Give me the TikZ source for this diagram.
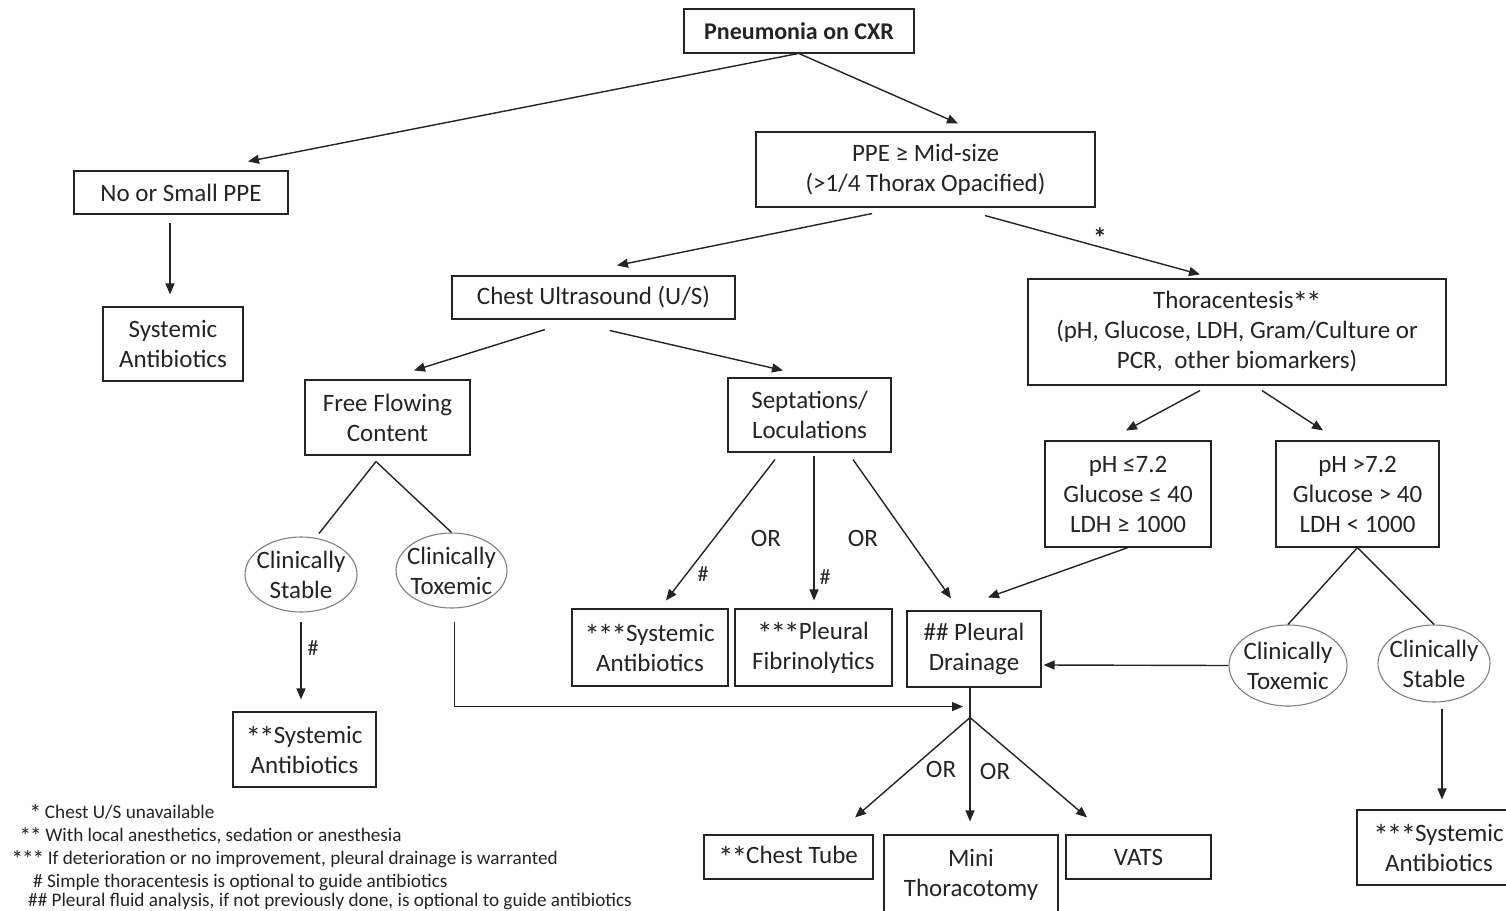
\documentclass[tikz,border=0pt]{standalone}
\usepackage{fontspec}
\usepackage{graphicx}
\setmainfont{Carlito}
\usetikzlibrary{shapes.geometric,arrows.meta,calc}
\definecolor{ink}{HTML}{242424}
\definecolor{ell}{HTML}{808080}
\newcommand\bst{\kern-0.04em\raisebox{-0.2em}{\scalebox{1.25}{*}}\kern-0.04em}
\begin{document}
\begin{tikzpicture}[x=1pt,y=-1pt,
  box/.style={draw=ink, line width=1.1pt, inner sep=0pt, align=center, text=ink, font=\fontsize{25}{30}\selectfont},
  oval/.style={ellipse, draw=ell, line width=1.1pt, inner sep=0pt},
  arr/.style={draw=ink, line width=1.4pt, -{Triangle[length=11pt,width=9pt]}},
  ln/.style={draw=ink, line width=1.4pt},
  lbl/.style={text=ink, font=\fontsize{25}{30}\selectfont, inner sep=0pt, align=center},
  hsh/.style={text=ink, font=\fontsize{22}{26}\selectfont, inner sep=0pt},
  fn/.style={text=ink, font=\fontsize{19.2}{23}\selectfont, inner sep=0pt, anchor=base west}]
\useasboundingbox (0,0) rectangle (1506,910);
\clip (0,0) rectangle (1506,910);
\fill[white] (0,0) rectangle (1506,910);

% boxes
\node[box, minimum width=230, minimum height=44, font=\fontsize{24}{30}\selectfont\bfseries] (title) at (799,31) {Pneumonia on CXR};
\node[box, minimum width=214, minimum height=43] (nosmall) at (181,192.5) {No or Small PPE};
\node[box, minimum width=339, minimum height=75] (ppe) at (925.5,169.5) {PPE ≥ Mid-size\\(>1/4 Thorax Opacified)};
\node[box, minimum width=140, minimum height=74] (sys1) at (173,344) {Systemic\\Antibiotics};
\node[box, minimum width=283, minimum height=43] (cus) at (593.5,297.5) {Chest Ultrasound (U/S)};
\node[box, minimum width=418, minimum height=106] (thora) at (1237,332) {Thoracentesis\bst\bst\\(pH, Glucose, LDH, Gram/Culture or\\PCR,\ \ other biomarkers)};
\node[box, minimum width=165, minimum height=75] (free) at (387.5,417.5) {Free Flowing\\Content};
\node[box, minimum width=163, minimum height=74] (sept) at (809.5,415) {Septations/\\Loculations};
\node[box, minimum width=166, minimum height=106] (phlow) at (1128,494) {pH ≤7.2\\Glucose ≤ 40\\LDH ≥ 1000};
\node[box, minimum width=163, minimum height=106] (phhigh) at (1357.5,494) {pH >7.2\\Glucose > 40\\LDH < 1000};
\node[box, minimum width=143, minimum height=75] (sys2) at (304.5,749.5) {\bst\bst Systemic\\Antibiotics};
\node[box, minimum width=156, minimum height=77] (sys3) at (650,647.5) {\bst\bst\bst Systemic\\Antibiotics};
\node[box, minimum width=157, minimum height=77] (fib) at (813.5,647.5) {\bst\bst\bst Pleural\\Fibrinolytics};
\node[box, minimum width=134, minimum height=76] (drain) at (974,649) {\#\# Pleural\\Drainage};
\node[box, minimum width=170, minimum height=75] (sys4) at (1442,847.5) {};
\node[lbl] (sys4t) at (1439,847.5) {\bst\bst\bst Systemic\\Antibiotics};
\node[box, minimum width=169, minimum height=44] (tube) at (788.5,857) {\bst\bst Chest Tube};
\node[box, minimum width=174, minimum height=80] (mini) at (971,875) {Mini\\Thoracotomy};
\node[box, minimum width=145, minimum height=44] (vats) at (1138.5,857) {VATS};

% ellipses
\node[oval, minimum width=112, minimum height=75] (stL) at (301,574.5) {};
\node[lbl] (stLt) at (stL) {Clinically\\Stable};
\node[oval, minimum width=111, minimum height=75] (txL) at (451.5,570.5) {};
\node[lbl] (txLt) at (txL) {Clinically\\Toxemic};
\node[oval, minimum width=118, minimum height=81] (txR) at (1288,665.5) {};
\node[lbl] (txRt) at (txR) {Clinically\\Toxemic};
\node[oval, minimum width=112, minimum height=77] (stR) at (1434,663.5) {};
\node[lbl] (stRt) at (stR) {Clinically\\Stable};

% connectors
\draw[arr] ($(title.south)+(-1,0)$) -- ($(nosmall.north)+(67,-9)$);
\draw[arr] (title.south) -- ($(ppe.north)+(32.5,-8)$);
\draw[arr] ($(nosmall.south)+(-11,8)$) -- ($(sys1.north)+(-3,-12)$);
\draw[arr] ($(ppe.south)+(-53.5,6)$) -- ($(cus.north)+(23.5,-10)$);
\draw[arr] ($(ppe.south)+(59.5,8)$) -- ($(thora.north)+(-37,-4)$);
\node[hsh, font=\fontsize{22}{26}\selectfont\bfseries] (star) at (1100,238) {\bst};
\draw[arr] ($(cus.south)+(-48.5,10)$) -- ($(free.north)+(26.5,-9)$);
\draw[arr] ($(cus.south)+(16.5,11)$) -- ($(sept.north)+(-26.5,-7)$);
\draw[ln] ($(free.south)+(-11.5,6)$) -- ($(stL.north)+(18,-3)$);
\draw[ln] ($(free.south)+(-11.5,6)$) -- (txL.north);
\draw[arr] ($(stL.south)+(0,9)$) -- ($(sys2.north)+(-3.5,-12)$);
\node[hsh] (h1) at (313,648) {\#};
\draw[arr] ($(txL.south)+(3,13)$) |- ($(drain.south)+(-11,19)$);
\draw[arr] ($(sept.south)+(-34.5,7)$) -- ($(sys3.north)+(16,-8)$);
\node[hsh] (h2) at (703,574) {\#};
\draw[arr] ($(sept.south)+(4.5,3)$) -- ($(fib.north)+(0.5,-8)$);
\node[hsh] (h3) at (825,577) {\#};
\draw[arr] ($(sept.south)+(43.5,7)$) -- ($(drain.north)+(-23,-12)$);
\node[lbl] (or1) at (766,538) {OR};
\node[lbl] (or2) at (863,538) {OR};
\draw[arr] ($(thora.south)+(-37,5)$) -- ($(phlow.north)+(-2,-10)$);
\draw[arr] ($(thora.south)+(25,5)$) -- ($(phhigh.north)+(-34.5,-10)$);
\draw[arr] (phlow.south) -- ($(drain.north)+(14,-13)$);
\draw[ln] (phhigh.south) -- (txR.north);
\draw[ln] (phhigh.south) -- (stR.north);
\draw[arr] (txR.west) -- ($(drain.east)+(2,16)$);
\draw[arr] ($(stR.south)+(8,6)$) -- ($(sys4.north)+(0,-10)$);
\draw[arr] ($(drain.south)+(-4,0)$) -- ($(mini.north)+(-1,-13)$);
\draw[arr] ($(drain.south)+(-4,30)$) -- ($(tube.north)+(66.5,-17)$);
\draw[arr] ($(drain.south)+(-4,30)$) -- ($(vats.north)+(-51.5,-17)$);
\node[lbl] (or3) at (941,769) {OR};
\node[lbl] (or4) at (995,771) {OR};

% footnotes
\node[fn] (fn1) at (30,818) {\bst\ Chest U/S unavailable};
\node[fn] (fn2) at (20,841) {\bst\bst\ With local anesthetics, sedation or anesthesia};
\node[fn] (fn3) at (12,864) {\bst\bst\bst\ If deterioration or no improvement, pleural drainage is warranted};
\node[fn] (fn4) at (33,887) {\# Simple thoracentesis is optional to guide antibiotics};
\node[fn] (fn5) at (28,906) {\#\# Pleural fluid analysis, if not previously done, is optional to guide antibiotics};
\end{tikzpicture}
\end{document}
